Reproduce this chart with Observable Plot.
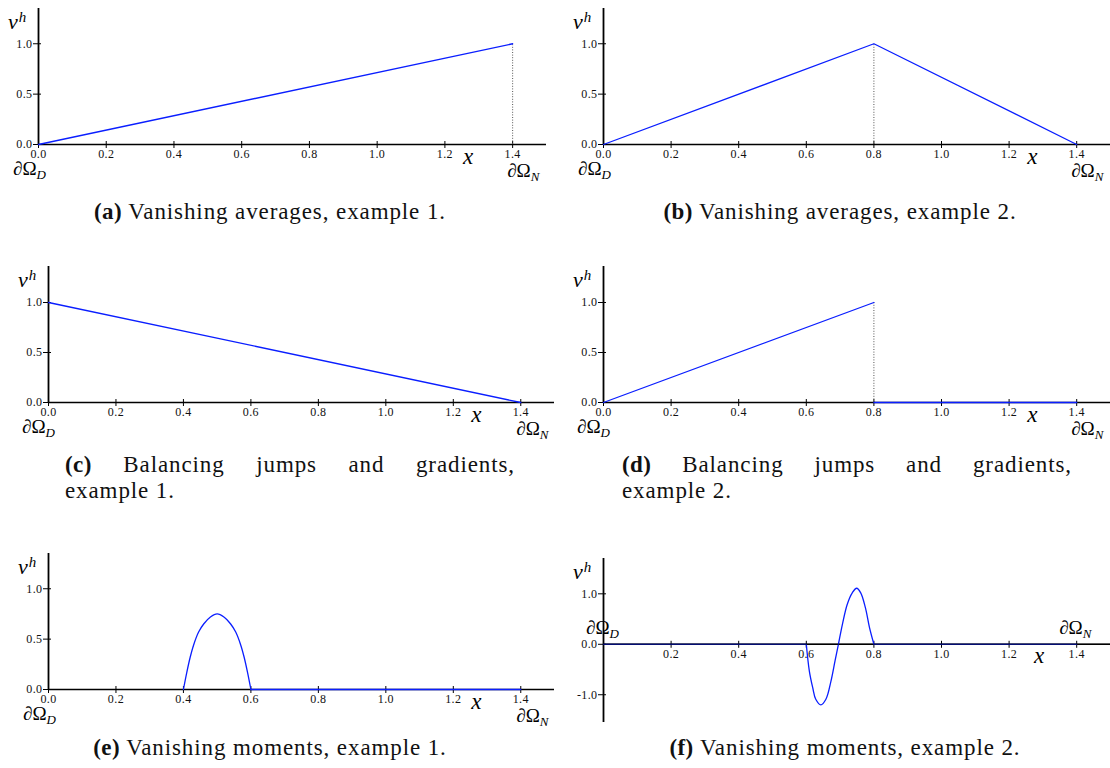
<!DOCTYPE html>
<html><head><meta charset="utf-8">
<script src="https://cdn.jsdelivr.net/npm/d3@7"></script>
<script src="https://cdn.jsdelivr.net/npm/@observablehq/plot@0.6"></script>
<style>
body{margin:0;background:#fff;}
#fig{position:relative;width:1110px;height:768px;overflow:hidden;background:#fff;}
.lab{position:absolute;white-space:nowrap;font-family:"Liberation Serif",serif;color:#000;line-height:0.8;}
.cap{position:absolute;font-family:"Liberation Serif",serif;font-size:23px;line-height:26px;letter-spacing:0.9px;color:#111;white-space:nowrap;}
.cap b{letter-spacing:0.4px;}
.it{font-style:italic;}
</style></head><body><div id="fig"></div>
<script>
// ---------- data ----------
const X_TICKS = [0, 0.2, 0.4, 0.6, 0.8, 1.0, 1.2, 1.4];
const X_TICKS_F = [0.2, 0.4, 0.6, 0.8, 1.0, 1.2, 1.4];
const Y_TICKS = [0, 0.5, 1.0];
const Y_TICKS_F = [-1.0, 0, 1.0];

// (a) vanishing averages, example 1
const aX = [0, 1.4];
const aY = [0, 1.0];
const aJumpX = [1.4];
const aJumpY = [1.0];
// (b) vanishing averages, example 2
const bX = [0, 0.8, 1.4];
const bY = [0, 1.0, 0];
const bJumpX = [0.8];
const bJumpY = [1.0];
// (c) balancing jumps and gradients, example 1
const cX = [0, 1.4];
const cY = [1.0, 0];
// (d) balancing jumps and gradients, example 2
const dX1 = [0, 0.8];
const dY1 = [0, 1.0];
const dX2 = [0.8, 1.4];
const dY2 = [0, 0];
const dJumpX = [0.8];
const dJumpY = [1.0];
// (e) vanishing moments, example 1
const eBumpX = [0.40, 0.41, 0.42, 0.43, 0.445, 0.46, 0.48, 0.50, 0.52, 0.54, 0.555, 0.57, 0.58, 0.59, 0.60];
const eBumpY = [0, 0.17, 0.32, 0.44, 0.57, 0.65, 0.72, 0.75, 0.72, 0.65, 0.57, 0.44, 0.32, 0.17, 0];
const eFlatX = [0.6, 1.4];
const eFlatY = [0, 0];
// (f) vanishing moments, example 2
const fFlat1X = [0, 0.6];
const fFlat1Y = [0, 0];
const fBumpX = [0.60, 0.609, 0.619, 0.628, 0.643, 0.658, 0.673, 0.685, 0.695, 0.707, 0.721, 0.736, 0.749, 0.761, 0.775, 0.787, 0.80];
const fBumpY = [0, -0.53, -0.86, -1.09, -1.20, -1.09, -0.73, -0.33, 0, 0.40, 0.79, 1.02, 1.11, 1.02, 0.72, 0.33, 0];
const fFlat2X = [0.8, 1.4];
const fFlat2Y = [0, 0];

const CAP_TAGS = ["(a)", "(b)", "(c)", "(d)", "(e)", "(f)"];
const CAP_TEXTS = [
  "Vanishing averages, example 1.",
  "Vanishing averages, example 2.",
  "Balancing jumps and gradients,|example 1.",
  "Balancing jumps and gradients,|example 2.",
  "Vanishing moments, example 1.",
  "Vanishing moments, example 2."
];

// ---------- layout ----------
const BLUE = "#0a1eff";
const layout = {
  a: {left: 0,   top: 0,   width: 555, height: 170, ml: 38, mr: 9, mt: 8, mb: 26, ymin: 0, ymax: 1.35, dB: 31, nB: 33, nDx: -5, dDx: -25, xAt: 1.27, xB: 21},
  b: {left: 560, top: 0,   width: 550, height: 170, ml: 43, mr: 0, mt: 8, mb: 26, ymin: 0, ymax: 1.35, dB: 31, nB: 33, nDx: -5, dDx: -25, xAt: 1.27, xB: 21},
  c: {left: 0,   top: 262, width: 560, height: 170, ml: 48, mr: 6, mt: 4, mb: 30, ymin: 0, ymax: 1.36, dB: 31, nB: 33, nDx: -4, dDx: -26, xAt: 1.27, xB: 21},
  d: {left: 560, top: 262, width: 550, height: 170, ml: 43, mr: 0, mt: 4, mb: 30, ymin: 0, ymax: 1.36, dB: 31, nB: 33, nDx: -5, dDx: -26, xAt: 1.27, xB: 21},
  e: {left: 0,   top: 549, width: 560, height: 170, ml: 48, mr: 6, mt: 4, mb: 30, ymin: 0, ymax: 1.35, dB: 31, nB: 33, nDx: -4, dDx: -25, xAt: 1.27, xB: 21},
  f: {left: 560, top: 552, width: 550, height: 180, ml: 43, mr: 0, mt: 6, mb: 10, ymin: -1.55, ymax: 1.7, dB: -10, nB: -10, nDx: -17, dDx: -17, xAt: 1.29, xB: 20}
};
const capLayout = [
  {center: 270, top: 199},
  {center: 840, top: 199},
  {left: 65, width: 450, top: 452},
  {left: 622, width: 450, top: 452},
  {center: 270, top: 735},
  {center: 845, top: 735}
];

const fig = document.getElementById("fig");
const pts = (xs, ys) => xs.map((x, i) => ({x, y: ys[i]}));

function blueLine(xs, ys, curve) {
  return Plot.line(pts(xs, ys), {x: "x", y: "y", stroke: BLUE, strokeWidth: 1.3, curve: curve || "linear"});
}
function jump(xs, ys) {
  return Plot.ruleX(pts(xs, ys), {x: "x", y1: () => 0, y2: "y", stroke: "#555", strokeWidth: 1, strokeDasharray: "1,1.6"});
}

function addLabel(html, left, baseline, fontSize, center) {
  const d = document.createElement("div");
  d.className = "lab";
  d.style.left = left + "px";
  d.style.top = (baseline - 0.7375 * fontSize) + "px";
  d.style.fontSize = fontSize + "px";
  if (center) d.style.transform = "translateX(-50%)";
  d.innerHTML = html;
  fig.appendChild(d);
}

function drawPanel(key, xTicks, xTickLabels, yTicks, dataMarks, topMarks) {
  const L = layout[key];
  const chart = Plot.plot({
    width: L.width, height: L.height,
    marginLeft: L.ml, marginRight: L.mr, marginTop: L.mt, marginBottom: L.mb,
    x: {domain: [0, 1.5], axis: null},
    y: {domain: [L.ymin, L.ymax], axis: null},
    style: {fontFamily: "'Liberation Serif', serif", fontSize: "12px", background: "none", overflow: "visible", color: "#111", letterSpacing: "0.4px"},
    marks: [
      Plot.ruleY([0], {stroke: "#000", strokeWidth: 1.4}),
      Plot.ruleX([0], {stroke: "#000", strokeWidth: 1.8}),
      Plot.ruleX(xTicks, {x: d => d, y1: () => 0, y2: () => 0, insetTop: -3, insetBottom: -4, stroke: "#000", strokeWidth: 1}),
      Plot.ruleY(yTicks, {y: d => d, x1: () => 0, x2: () => 0, insetLeft: -5, insetRight: -3, stroke: "#000", strokeWidth: 1}),
      Plot.text(xTickLabels, {x: d => d, y: () => 0, text: d => d.toFixed(1), dy: 10}),
      Plot.text(yTicks, {x: () => 0, y: d => d, text: d => d.toFixed(1), textAnchor: "end", dx: -6}),
      ...dataMarks,
      ...(topMarks || [])
    ]
  });
  chart.style.position = "absolute";
  chart.style.left = L.left + "px";
  chart.style.top = L.top + "px";
  fig.appendChild(chart);

  const sx = chart.scale("x"), sy = chart.scale("y");
  const X = v => L.left + sx.apply(v);
  const Y = v => L.top + sy.apply(v);
  const axisX = X(0), axisTop = Y(L.ymax), y0 = Y(0);
  // v^h
  addLabel('<span class="it">v</span><span class="it" style="font-size:15px;position:relative;top:-7px;left:1px">h</span>', axisX - 30, axisTop + 21, 22);
  // x
  addLabel('<span class="it">x</span>', X(L.xAt), y0 + L.xB, 23, true);
  // boundaries
  addLabel('∂Ω<span class="it" style="font-size:13px;position:relative;top:4px">D</span>', axisX + L.dDx, y0 + L.dB, 19);
  addLabel('∂Ω<span class="it" style="font-size:13px;position:relative;top:4px">N</span>', X(1.4) + L.nDx, y0 + L.nB, 19);
  return chart;
}

drawPanel("a", X_TICKS, X_TICKS, Y_TICKS, [jump(aJumpX, aJumpY), blueLine(aX, aY)]);
drawPanel("b", X_TICKS, X_TICKS, Y_TICKS, [jump(bJumpX, bJumpY), blueLine(bX, bY)]);
drawPanel("c", X_TICKS, X_TICKS, Y_TICKS, [blueLine(cX, cY)]);
drawPanel("d", X_TICKS, X_TICKS, Y_TICKS, [jump(dJumpX, dJumpY), blueLine(dX1, dY1), blueLine(dX2, dY2)]);
drawPanel("e", X_TICKS, X_TICKS, Y_TICKS, [blueLine(eBumpX, eBumpY, "catmull-rom"), blueLine(eFlatX, eFlatY)]);
drawPanel("f", X_TICKS_F, X_TICKS_F, Y_TICKS_F,
  [blueLine(fFlat1X, fFlat1Y), blueLine(fBumpX, fBumpY, "catmull-rom"), blueLine(fFlat2X, fFlat2Y)],
  [Plot.ruleY([0], {stroke: "#000", strokeOpacity: 0.55, strokeWidth: 1.6})]);

// captions
CAP_TEXTS.forEach((t, i) => {
  const C = capLayout[i];
  const parts = t.split("|");
  if (parts.length === 1) {
    const d = document.createElement("div");
    d.className = "cap";
    d.style.left = (C.center - 300) + "px";
    d.style.width = "600px";
    d.style.textAlign = "center";
    d.style.top = C.top + "px";
    d.innerHTML = "<b>" + CAP_TAGS[i] + "</b> " + parts[0];
    fig.appendChild(d);
  } else {
    const d1 = document.createElement("div");
    d1.className = "cap";
    d1.style.left = C.left + "px";
    d1.style.width = C.width + "px";
    d1.style.whiteSpace = "normal";
    d1.style.textAlign = "justify";
    d1.style.textAlignLast = "justify";
    d1.style.top = C.top + "px";
    d1.innerHTML = "<b>" + CAP_TAGS[i] + "</b> " + parts[0];
    fig.appendChild(d1);
    const d2 = document.createElement("div");
    d2.className = "cap";
    d2.style.left = C.left + "px";
    d2.style.top = (C.top + 26) + "px";
    d2.textContent = parts[1];
    fig.appendChild(d2);
  }
});
</script></body></html>
